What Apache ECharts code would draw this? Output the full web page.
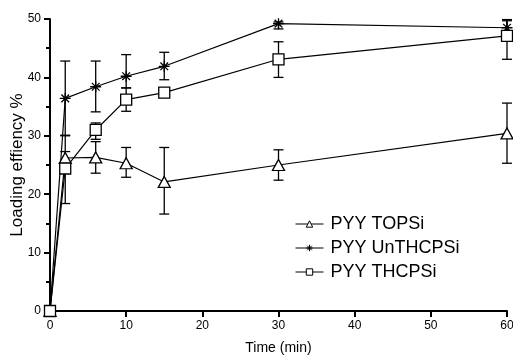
<!DOCTYPE html>
<html><head><meta charset="utf-8">
<script src="https://cdn.jsdelivr.net/npm/echarts@6/dist/echarts.min.js"></script>
<style>html,body{margin:0;padding:0;background:#fff}#c{width:513px;height:356px}</style>
</head><body><div id="c"></div>
<script>
const times = [0, 2, 6, 10, 15, 30, 60];
const seriesNames = ['PYY TOPSi', 'PYY UnTHCPSi', 'PYY THCPSi'];
const topsi = [0, 26.2, 26.3, 25.3, 22.1, 25.0, 30.4];
const topsiLow = [0, 25.2, 23.6, 22.9, 16.6, 22.4, 25.3];
const topsiHigh = [0, 27.3, 29.0, 28.0, 28.0, 27.6, 35.6];
const unthcpsi = [0, 36.4, 38.4, 40.2, 41.9, 49.2, 48.5];
const unthcpsiLow = [0, 30.0, 34.1, 38.2, 39.6, 48.3, 47.3];
const unthcpsiHigh = [0, 42.8, 42.8, 43.9, 44.3, 49.5, 49.7];
const thcpsi = [0, 24.4, 31.0, 36.2, 37.4, 43.1, 47.1];
const thcpsiLow = [0, 18.4, 29.4, 34.2, 36.6, 40.0, 43.1];
const thcpsiHigh = [0, 30.1, 32.2, 38.2, 38.1, 46.1, 49.9];
const xTicks = [0, 10, 20, 30, 40, 50, 60];
const yTicks = [0, 10, 20, 30, 40, 50];

const FONT = 'Liberation Sans';
const asterisk = 'path://M0,-6L0,6M-6,0L6,0M-4.2,-4.2L4.2,4.2M-4.2,4.2L4.2,-4.2';

function pairs(vals){ return times.map((t,i)=>[t, vals[i]]); }
function errData(lo, hi){ return times.map((t,i)=>[t, lo[i], hi[i]]).filter((d,i)=>hi[i]-lo[i]>0); }

function errSeries(name, lo, hi){
  return {
    type: 'custom', name: name + ' err', silent: true, z: 1,
    data: errData(lo, hi),
    encode: {x: 0, y: [1, 2]},
    renderItem: function(params, api){
      const x = api.value(0);
      const p1 = api.coord([x, api.value(1)]);
      const p2 = api.coord([x, api.value(2)]);
      const w = 5;
      const st = {stroke: '#000', lineWidth: 1.3};
      return {type: 'group', children: [
        {type: 'line', shape: {x1: p1[0], y1: p1[1], x2: p2[0], y2: p2[1]}, style: st},
        {type: 'line', shape: {x1: p1[0]-w, y1: p1[1], x2: p1[0]+w, y2: p1[1]}, style: st},
        {type: 'line', shape: {x1: p2[0]-w, y1: p2[1], x2: p2[0]+w, y2: p2[1]}, style: st}
      ]};
    }
  };
}

function lineSeries(name, vals, symbol, size){
  return {
    type: 'line', name: name, data: pairs(vals), z: 3,
    symbol: symbol, symbolSize: size, showAllSymbol: true,
    lineStyle: {color: '#000', width: 1.2},
    itemStyle: {color: '#fff', borderColor: '#000', borderWidth: 1.3},
    emphasis: {disabled: true}, animation: false
  };
}

const chart = echarts.init(document.getElementById('c'));
chart.setOption({
  animation: false,
  backgroundColor: '#fff',
  textStyle: {fontFamily: FONT},
  grid: {left: 50, right: 6, top: 19, bottom: 45, containLabel: false, outerBoundsMode: 'none'},
  legend: {
    orient: 'vertical', left: 290, top: 210, itemGap: 6,
    itemWidth: 28, itemHeight: 8,
    lineStyle: {width: 1},
    itemStyle: {borderWidth: 1},
    textStyle: {fontFamily: FONT, fontSize: 18, color: '#000', padding: [0,0,0,2]},
    data: seriesNames
  },
  xAxis: {
    type: 'value', min: xTicks[0], max: xTicks[xTicks.length-1], interval: 10,
    name: 'Time (min)', nameLocation: 'middle', nameGap: 30, nameMoveOverlap: false,
    nameTextStyle: {fontFamily: FONT, fontSize: 14, color: '#000'},
    axisLine: {show: true, onZero: false, lineStyle: {color: '#000', width: 2}},
    axisTick: {show: true, inside: false, length: 6, lineStyle: {color: '#000', width: 2}},
    axisLabel: {fontFamily: FONT, fontSize: 12, color: '#000', margin: 9},
    splitLine: {show: false}
  },
  yAxis: {
    type: 'value', min: yTicks[0], max: yTicks[yTicks.length-1], interval: 10,
    name: 'Loading effiency %', nameLocation: 'middle', nameGap: 24, nameRotate: 90, nameMoveOverlap: false,
    nameTextStyle: {fontFamily: FONT, fontSize: 17, color: '#000'},
    axisLine: {show: true, onZero: false, lineStyle: {color: '#000', width: 2}},
    axisTick: {show: true, inside: false, length: 6, lineStyle: {color: '#000', width: 2}},
    minorTick: {show: true, splitNumber: 2, length: 4, lineStyle: {color: '#000', width: 2}},
    axisLabel: {fontFamily: FONT, fontSize: 12, color: '#000', margin: 9},
    splitLine: {show: false}
  },
  series: [
    errSeries(seriesNames[0], topsiLow, topsiHigh),
    errSeries(seriesNames[1], unthcpsiLow, unthcpsiHigh),
    errSeries(seriesNames[2], thcpsiLow, thcpsiHigh),
    lineSeries(seriesNames[0], topsi, 'triangle', [12, 11]),
    lineSeries(seriesNames[1], unthcpsi, asterisk, 11),
    lineSeries(seriesNames[2], thcpsi, 'rect', 11)
  ]
});
</script></body></html>
